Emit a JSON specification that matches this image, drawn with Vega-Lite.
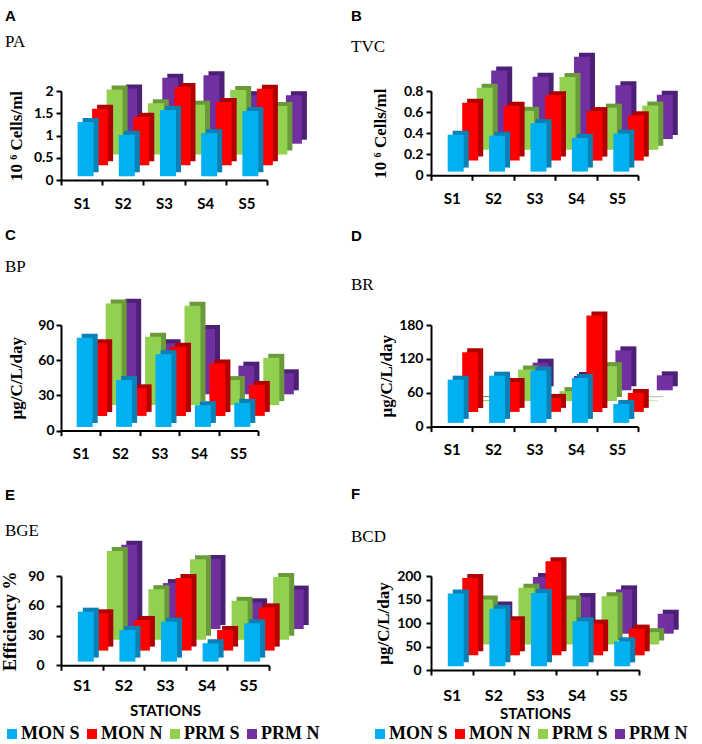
{
"$schema": "https://vega.github.io/schema/vega-lite/v6.json",
"autosize": {"type": "none"},
"padding": {"left": 61, "top": 91, "right": 641, "bottom": 653},
"background": "white",
"data": {"values": [
{"panel":"PA","station":"S1","series":"MON S","value":1.22},{"panel":"PA","station":"S1","series":"MON N","value":1.27},{"panel":"PA","station":"S1","series":"PRM S","value":1.46},{"panel":"PA","station":"S1","series":"PRM N","value":1.24},
{"panel":"PA","station":"S2","series":"MON S","value":0.93},{"panel":"PA","station":"S2","series":"MON N","value":1.09},{"panel":"PA","station":"S2","series":"PRM S","value":1.15},{"panel":"PA","station":"S2","series":"PRM N","value":1.48},
{"panel":"PA","station":"S3","series":"MON S","value":1.49},{"panel":"PA","station":"S3","series":"MON N","value":1.76},{"panel":"PA","station":"S3","series":"PRM S","value":1.12},{"panel":"PA","station":"S3","series":"PRM N","value":1.54},
{"panel":"PA","station":"S4","series":"MON S","value":0.97},{"panel":"PA","station":"S4","series":"MON N","value":1.42},{"panel":"PA","station":"S4","series":"PRM S","value":1.45},{"panel":"PA","station":"S4","series":"PRM N","value":1.09},
{"panel":"PA","station":"S5","series":"MON S","value":1.47},{"panel":"PA","station":"S5","series":"MON N","value":1.72},{"panel":"PA","station":"S5","series":"PRM S","value":1.09},{"panel":"PA","station":"S5","series":"PRM N","value":1.09},
{"panel":"TVC","station":"S1","series":"MON S","value":0.35},{"panel":"TVC","station":"S1","series":"MON N","value":0.55},{"panel":"TVC","station":"S1","series":"PRM S","value":0.59},{"panel":"TVC","station":"S1","series":"PRM N","value":0.65},
{"panel":"TVC","station":"S2","series":"MON S","value":0.34},{"panel":"TVC","station":"S2","series":"MON N","value":0.52},{"panel":"TVC","station":"S2","series":"PRM S","value":0.37},{"panel":"TVC","station":"S2","series":"PRM N","value":0.59},
{"panel":"TVC","station":"S3","series":"MON S","value":0.46},{"panel":"TVC","station":"S3","series":"MON N","value":0.62},{"panel":"TVC","station":"S3","series":"PRM S","value":0.69},{"panel":"TVC","station":"S3","series":"PRM N","value":0.78},
{"panel":"TVC","station":"S4","series":"MON S","value":0.32},{"panel":"TVC","station":"S4","series":"MON N","value":0.47},{"panel":"TVC","station":"S4","series":"PRM S","value":0.40},{"panel":"TVC","station":"S4","series":"PRM N","value":0.51},
{"panel":"TVC","station":"S5","series":"MON S","value":0.36},{"panel":"TVC","station":"S5","series":"MON N","value":0.43},{"panel":"TVC","station":"S5","series":"PRM S","value":0.42},{"panel":"TVC","station":"S5","series":"PRM N","value":0.42},
{"panel":"BP","station":"S1","series":"MON S","value":76},{"panel":"BP","station":"S1","series":"MON N","value":62},{"panel":"BP","station":"S1","series":"PRM S","value":86.6},{"panel":"BP","station":"S1","series":"PRM N","value":78},
{"panel":"BP","station":"S2","series":"MON S","value":40},{"panel":"BP","station":"S2","series":"MON N","value":23.5},{"panel":"BP","station":"S2","series":"PRM S","value":58.2},{"panel":"BP","station":"S2","series":"PRM N","value":43.5},
{"panel":"BP","station":"S3","series":"MON S","value":62},{"panel":"BP","station":"S3","series":"MON N","value":59},{"panel":"BP","station":"S3","series":"PRM S","value":84.7},{"panel":"BP","station":"S3","series":"PRM N","value":55.7},
{"panel":"BP","station":"S4","series":"MON S","value":18.5},{"panel":"BP","station":"S4","series":"MON N","value":44.6},{"panel":"BP","station":"S4","series":"PRM S","value":21.3},{"panel":"BP","station":"S4","series":"PRM N","value":24.4},
{"panel":"BP","station":"S5","series":"MON S","value":20.5},{"panel":"BP","station":"S5","series":"MON N","value":26.4},{"panel":"BP","station":"S5","series":"PRM S","value":40.3},{"panel":"BP","station":"S5","series":"PRM N","value":17.9},
{"panel":"BR","station":"S1","series":"MON S","value":76.6},{"panel":"BR","station":"S1","series":"MON N","value":105.5},{"panel":"BR","station":"S1","series":"PRM S","value":2},{"panel":"BR","station":"S1","series":"PRM N","value":15},
{"panel":"BR","station":"S2","series":"MON S","value":83.7},{"panel":"BR","station":"S2","series":"MON N","value":53},{"panel":"BR","station":"S2","series":"PRM S","value":56},{"panel":"BR","station":"S2","series":"PRM N","value":49},
{"panel":"BR","station":"S3","series":"MON S","value":93},{"panel":"BR","station":"S3","series":"MON N","value":24.8},{"panel":"BR","station":"S3","series":"PRM S","value":17.7},{"panel":"BR","station":"S3","series":"PRM N","value":25.4},
{"panel":"BR","station":"S4","series":"MON S","value":79.6},{"panel":"BR","station":"S4","series":"MON N","value":171},{"panel":"BR","station":"S4","series":"PRM S","value":62},{"panel":"BR","station":"S4","series":"PRM N","value":70.8},
{"panel":"BR","station":"S5","series":"MON S","value":33.6},{"panel":"BR","station":"S5","series":"MON N","value":33.6},{"panel":"BR","station":"S5","series":"PRM S","value":1},{"panel":"BR","station":"S5","series":"PRM N","value":26.5},
{"panel":"BGE","station":"S1","series":"MON S","value":50.3},{"panel":"BGE","station":"S1","series":"MON N","value":37.6},{"panel":"BGE","station":"S1","series":"PRM S","value":89.6},{"panel":"BGE","station":"S1","series":"PRM N","value":85},
{"panel":"BGE","station":"S2","series":"MON S","value":31.9},{"panel":"BGE","station":"S2","series":"MON N","value":30.9},{"panel":"BGE","station":"S2","series":"PRM S","value":51},{"panel":"BGE","station":"S2","series":"PRM N","value":46.3},
{"panel":"BGE","station":"S3","series":"MON S","value":40.3},{"panel":"BGE","station":"S3","series":"MON N","value":73.2},{"panel":"BGE","station":"S3","series":"PRM S","value":81.2},{"panel":"BGE","station":"S3","series":"PRM N","value":70.5},
{"panel":"BGE","station":"S4","series":"MON S","value":18.5},{"panel":"BGE","station":"S4","series":"MON N","value":20.8},{"panel":"BGE","station":"S4","series":"PRM S","value":39.3},{"panel":"BGE","station":"S4","series":"PRM N","value":26.9},
{"panel":"BGE","station":"S5","series":"MON S","value":38.6},{"panel":"BGE","station":"S5","series":"MON N","value":43.6},{"panel":"BGE","station":"S5","series":"PRM S","value":63.4},{"panel":"BGE","station":"S5","series":"PRM N","value":39.7},
{"panel":"BCD","station":"S1","series":"MON S","value":154.7},{"panel":"BCD","station":"S1","series":"MON N","value":164.5},{"panel":"BCD","station":"S1","series":"PRM S","value":95.7},{"panel":"BCD","station":"S1","series":"PRM N","value":60},
{"panel":"BCD","station":"S2","series":"MON S","value":122.7},{"panel":"BCD","station":"S2","series":"MON N","value":74.5},{"panel":"BCD","station":"S2","series":"PRM S","value":120.6},{"panel":"BCD","station":"S2","series":"PRM N","value":120.6},
{"panel":"BCD","station":"S3","series":"MON S","value":156},{"panel":"BCD","station":"S3","series":"MON N","value":200},{"panel":"BCD","station":"S3","series":"PRM S","value":95.7},{"panel":"BCD","station":"S3","series":"PRM N","value":78},
{"panel":"BCD","station":"S4","series":"MON S","value":95.7},{"panel":"BCD","station":"S4","series":"MON N","value":67.4},{"panel":"BCD","station":"S4","series":"PRM S","value":102.8},{"panel":"BCD","station":"S4","series":"PRM N","value":94.3},
{"panel":"BCD","station":"S5","series":"MON S","value":53.2},{"panel":"BCD","station":"S5","series":"MON N","value":56.8},{"panel":"BCD","station":"S5","series":"PRM S","value":26.2},{"panel":"BCD","station":"S5","series":"PRM N","value":42.5}
]},
"columns": 2,
"spacing": {"row": 145, "column": 162},
"bounds": "flush",
"resolve": {"scale": {"color": "independent", "x": "independent", "y": "independent"}, "legend": {"color": "independent"}},
"concat": [
{
 "width": 206, "height": 89,
 "title": {"text": "A", "subtitle": "PA", "dx": -56, "offset": 21, "subtitlePadding": 10},
 "transform": [{"filter": "datum.panel == 'PA'"}],
 "encoding": {
  "x": {"field": "station", "type": "nominal", "scale": {"paddingInner": 0, "paddingOuter": 0}, "axis": {"title": null, "labelPadding": 11}},
  "y": {"field": "value", "type": "quantitative", "scale": {"domain": [0, 2], "nice": false}, "axis": {"values": [0, 0.5, 1, 1.5, 2], "format": "~g", "title": "10 ⁶ Cells/ml", "titleFontSize": 17, "labelPadding": 3, "titlePadding": 8}},
  "color": {"field": "series", "type": "nominal", "scale": {"domain": ["MON S", "MON N", "PRM S", "PRM N"], "range": ["#00B0F0", "#FF0000", "#92D050", "#7030A0"]}, "legend": null}
 },
 "layer": [
  {"transform": [{"filter": "datum.series == 'PRM N'"}], "mark": {"type": "bar", "width": 16, "xOffset": 52.5, "x2Offset": 52.5, "yOffset": -40.3, "y2Offset": -40.3}, "encoding": {"color": {"value": "#4B2075"}}},
  {"transform": [{"filter": "datum.series == 'PRM N'"}], "mark": {"type": "bar", "width": 16, "xOffset": 47.5, "x2Offset": 47.5, "yOffset": -36.3, "y2Offset": -36.3}},
  {"transform": [{"filter": "datum.series == 'PRM S'"}], "mark": {"type": "bar", "width": 16, "xOffset": 38, "x2Offset": 38, "yOffset": -29.5, "y2Offset": -29.5}, "encoding": {"color": {"value": "#6B9A3A"}}},
  {"transform": [{"filter": "datum.series == 'PRM S'"}], "mark": {"type": "bar", "width": 16, "xOffset": 33, "x2Offset": 33, "yOffset": -25.5, "y2Offset": -25.5}},
  {"transform": [{"filter": "datum.series == 'MON N'"}], "mark": {"type": "bar", "width": 16, "xOffset": 23.5, "x2Offset": 23.5, "yOffset": -18.7, "y2Offset": -18.7}, "encoding": {"color": {"value": "#B00000"}}},
  {"transform": [{"filter": "datum.series == 'MON N'"}], "mark": {"type": "bar", "width": 16, "xOffset": 18.5, "x2Offset": 18.5, "yOffset": -14.7, "y2Offset": -14.7}},
  {"transform": [{"filter": "datum.series == 'MON S'"}], "mark": {"type": "bar", "width": 16, "xOffset": 9, "x2Offset": 9, "yOffset": -7.7, "y2Offset": -7.7}, "encoding": {"color": {"value": "#0A80B4"}}},
  {"transform": [{"filter": "datum.series == 'MON S'"}], "mark": {"type": "bar", "width": 16, "xOffset": 4, "x2Offset": 4, "yOffset": -3.7, "y2Offset": -3.7}}
 ]
},
{
 "width": 207, "height": 84.3,
 "title": {"text": "B", "subtitle": "TVC", "dx": -80, "offset": -2, "subtitlePadding": 15},
 "transform": [{"filter": "datum.panel == 'TVC'"}],
 "encoding": {
  "x": {"field": "station", "type": "nominal", "scale": {"paddingInner": 0, "paddingOuter": 0}, "axis": {"title": null, "labelPadding": 11}},
  "y": {"field": "value", "type": "quantitative", "scale": {"domain": [0, 0.8], "nice": false}, "axis": {"values": [0, 0.2, 0.4, 0.6, 0.8], "format": "~g", "title": "10 ⁶ Cells/ml", "titleFontSize": 17, "labelPadding": 3, "titlePadding": 14}},
  "color": {"field": "series", "type": "nominal", "scale": {"domain": ["MON S", "MON N", "PRM S", "PRM N"], "range": ["#00B0F0", "#FF0000", "#92D050", "#7030A0"]}, "legend": null}
 },
 "layer": [
  {"transform": [{"filter": "datum.series == 'PRM N'"}], "mark": {"type": "bar", "width": 16, "xOffset": 52.5, "x2Offset": 52.5, "yOffset": -40.3, "y2Offset": -40.3}, "encoding": {"color": {"value": "#4B2075"}}},
  {"transform": [{"filter": "datum.series == 'PRM N'"}], "mark": {"type": "bar", "width": 16, "xOffset": 47.5, "x2Offset": 47.5, "yOffset": -36.3, "y2Offset": -36.3}},
  {"transform": [{"filter": "datum.series == 'PRM S'"}], "mark": {"type": "bar", "width": 16, "xOffset": 38, "x2Offset": 38, "yOffset": -29.5, "y2Offset": -29.5}, "encoding": {"color": {"value": "#6B9A3A"}}},
  {"transform": [{"filter": "datum.series == 'PRM S'"}], "mark": {"type": "bar", "width": 16, "xOffset": 33, "x2Offset": 33, "yOffset": -25.5, "y2Offset": -25.5}},
  {"transform": [{"filter": "datum.series == 'MON N'"}], "mark": {"type": "bar", "width": 16, "xOffset": 23.5, "x2Offset": 23.5, "yOffset": -18.7, "y2Offset": -18.7}, "encoding": {"color": {"value": "#B00000"}}},
  {"transform": [{"filter": "datum.series == 'MON N'"}], "mark": {"type": "bar", "width": 16, "xOffset": 18.5, "x2Offset": 18.5, "yOffset": -14.7, "y2Offset": -14.7}},
  {"transform": [{"filter": "datum.series == 'MON S'"}], "mark": {"type": "bar", "width": 16, "xOffset": 9, "x2Offset": 9, "yOffset": -7.7, "y2Offset": -7.7}, "encoding": {"color": {"value": "#0A80B4"}}},
  {"transform": [{"filter": "datum.series == 'MON S'"}], "mark": {"type": "bar", "width": 16, "xOffset": 4, "x2Offset": 4, "yOffset": -3.7, "y2Offset": -3.7}}
 ]
},
{
 "width": 197, "height": 105.6,
 "title": {"text": "C", "subtitle": "BP", "dx": -56, "offset": 24, "subtitlePadding": 16},
 "transform": [{"filter": "datum.panel == 'BP'"}],
 "encoding": {
  "x": {"field": "station", "type": "nominal", "scale": {"paddingInner": 0, "paddingOuter": 0}, "axis": {"title": null, "labelPadding": 11}},
  "y": {"field": "value", "type": "quantitative", "scale": {"domain": [0, 90], "nice": false}, "axis": {"values": [0, 30, 60, 90], "title": "µg/C/L/day", "titleFontSize": 17, "labelPadding": 2, "titlePadding": 12}},
  "color": {"field": "series", "type": "nominal", "scale": {"domain": ["MON S", "MON N", "PRM S", "PRM N"], "range": ["#00B0F0", "#FF0000", "#92D050", "#7030A0"]}, "legend": null}
 },
 "layer": [
  {"transform": [{"filter": "datum.series == 'PRM N'"}], "mark": {"type": "bar", "width": 16, "xOffset": 52.5, "x2Offset": 52.5, "yOffset": -40.3, "y2Offset": -40.3}, "encoding": {"color": {"value": "#4B2075"}}},
  {"transform": [{"filter": "datum.series == 'PRM N'"}], "mark": {"type": "bar", "width": 16, "xOffset": 47.5, "x2Offset": 47.5, "yOffset": -36.3, "y2Offset": -36.3}},
  {"transform": [{"filter": "datum.series == 'PRM S'"}], "mark": {"type": "bar", "width": 16, "xOffset": 38, "x2Offset": 38, "yOffset": -29.5, "y2Offset": -29.5}, "encoding": {"color": {"value": "#6B9A3A"}}},
  {"transform": [{"filter": "datum.series == 'PRM S'"}], "mark": {"type": "bar", "width": 16, "xOffset": 33, "x2Offset": 33, "yOffset": -25.5, "y2Offset": -25.5}},
  {"transform": [{"filter": "datum.series == 'MON N'"}], "mark": {"type": "bar", "width": 16, "xOffset": 23.5, "x2Offset": 23.5, "yOffset": -18.7, "y2Offset": -18.7}, "encoding": {"color": {"value": "#B00000"}}},
  {"transform": [{"filter": "datum.series == 'MON N'"}], "mark": {"type": "bar", "width": 16, "xOffset": 18.5, "x2Offset": 18.5, "yOffset": -14.7, "y2Offset": -14.7}},
  {"transform": [{"filter": "datum.series == 'MON S'"}], "mark": {"type": "bar", "width": 16, "xOffset": 9, "x2Offset": 9, "yOffset": -7.7, "y2Offset": -7.7}, "encoding": {"color": {"value": "#0A80B4"}}},
  {"transform": [{"filter": "datum.series == 'MON S'"}], "mark": {"type": "bar", "width": 16, "xOffset": 4, "x2Offset": 4, "yOffset": -3.7, "y2Offset": -3.7}}
 ]
},
{
 "width": 207, "height": 101.6,
 "title": {"text": "D", "subtitle": "BR", "dx": -80, "offset": 18, "subtitlePadding": 33},
 "transform": [{"filter": "datum.panel == 'BR'"}],
 "encoding": {
  "x": {"field": "station", "type": "nominal", "scale": {"paddingInner": 0, "paddingOuter": 0}, "axis": {"title": null, "labelPadding": 11}},
  "y": {"field": "value", "type": "quantitative", "scale": {"domain": [0, 180], "nice": false}, "axis": {"values": [0, 60, 120, 180], "title": "µg/C/L/day", "titleFontSize": 17, "labelPadding": 3, "titlePadding": 3}},
  "color": {"field": "series", "type": "nominal", "scale": {"domain": ["MON S", "MON N", "PRM S", "PRM N"], "range": ["#00B0F0", "#FF0000", "#92D050", "#7030A0"]}, "legend": null}
 },
 "layer": [
  {"transform": [{"filter": "datum.series == 'PRM N'"}], "mark": {"type": "bar", "width": 16, "xOffset": 52.5, "x2Offset": 52.5, "yOffset": -40.3, "y2Offset": -40.3}, "encoding": {"color": {"value": "#4B2075"}}},
  {"transform": [{"filter": "datum.series == 'PRM N'"}], "mark": {"type": "bar", "width": 16, "xOffset": 47.5, "x2Offset": 47.5, "yOffset": -36.3, "y2Offset": -36.3}},
  {"transform": [{"filter": "datum.series == 'PRM S'"}], "mark": {"type": "bar", "width": 16, "xOffset": 38, "x2Offset": 38, "yOffset": -29.5, "y2Offset": -29.5}, "encoding": {"color": {"value": "#6B9A3A"}}},
  {"transform": [{"filter": "datum.series == 'PRM S'"}], "mark": {"type": "bar", "width": 16, "xOffset": 33, "x2Offset": 33, "yOffset": -25.5, "y2Offset": -25.5}},
  {"transform": [{"filter": "datum.series == 'MON N'"}], "mark": {"type": "bar", "width": 16, "xOffset": 23.5, "x2Offset": 23.5, "yOffset": -18.7, "y2Offset": -18.7}, "encoding": {"color": {"value": "#B00000"}}},
  {"transform": [{"filter": "datum.series == 'MON N'"}], "mark": {"type": "bar", "width": 16, "xOffset": 18.5, "x2Offset": 18.5, "yOffset": -14.7, "y2Offset": -14.7}},
  {"transform": [{"filter": "datum.series == 'MON S'"}], "mark": {"type": "bar", "width": 16, "xOffset": 9, "x2Offset": 9, "yOffset": -7.7, "y2Offset": -7.7}, "encoding": {"color": {"value": "#0A80B4"}}},
  {"transform": [{"filter": "datum.series == 'MON S'"}], "mark": {"type": "bar", "width": 16, "xOffset": 4, "x2Offset": 4, "yOffset": -3.7, "y2Offset": -3.7}}
 ]
},
{
 "width": 208, "height": 89.3,
 "title": {"text": "E", "subtitle": "BGE", "dx": -56, "offset": 2, "subtitlePadding": 20},
 "transform": [{"filter": "datum.panel == 'BGE'"}],
 "encoding": {
  "x": {"field": "station", "type": "nominal", "scale": {"paddingInner": 0, "paddingOuter": 0}, "axis": {"title": "STATIONS", "labelFontSize": 16, "labelPadding": 7, "titlePadding": 10}},
  "y": {"field": "value", "type": "quantitative", "scale": {"domain": [0, 90], "nice": false}, "axis": {"values": [0, 30, 60, 90], "title": "Efficiency %", "titleFontSize": 18, "labelPadding": 12, "titlePadding": 8}},
  "color": {"field": "series", "type": "nominal", "scale": {"domain": ["MON S", "MON N", "PRM S", "PRM N"], "range": ["#00B0F0", "#FF0000", "#92D050", "#7030A0"]}, "legend": {"orient": "none", "legendX": -58, "legendY": 149, "direction": "horizontal", "columns": 4, "title": null}}
 },
 "layer": [
  {"transform": [{"filter": "datum.series == 'PRM N'"}], "mark": {"type": "bar", "width": 16, "xOffset": 52.5, "x2Offset": 52.5, "yOffset": -40.3, "y2Offset": -40.3}, "encoding": {"color": {"value": "#4B2075"}}},
  {"transform": [{"filter": "datum.series == 'PRM N'"}], "mark": {"type": "bar", "width": 16, "xOffset": 47.5, "x2Offset": 47.5, "yOffset": -36.3, "y2Offset": -36.3}},
  {"transform": [{"filter": "datum.series == 'PRM S'"}], "mark": {"type": "bar", "width": 16, "xOffset": 38, "x2Offset": 38, "yOffset": -29.5, "y2Offset": -29.5}, "encoding": {"color": {"value": "#6B9A3A"}}},
  {"transform": [{"filter": "datum.series == 'PRM S'"}], "mark": {"type": "bar", "width": 16, "xOffset": 33, "x2Offset": 33, "yOffset": -25.5, "y2Offset": -25.5}},
  {"transform": [{"filter": "datum.series == 'MON N'"}], "mark": {"type": "bar", "width": 16, "xOffset": 23.5, "x2Offset": 23.5, "yOffset": -18.7, "y2Offset": -18.7}, "encoding": {"color": {"value": "#B00000"}}},
  {"transform": [{"filter": "datum.series == 'MON N'"}], "mark": {"type": "bar", "width": 16, "xOffset": 18.5, "x2Offset": 18.5, "yOffset": -14.7, "y2Offset": -14.7}},
  {"transform": [{"filter": "datum.series == 'MON S'"}], "mark": {"type": "bar", "width": 16, "xOffset": 9, "x2Offset": 9, "yOffset": -7.7, "y2Offset": -7.7}, "encoding": {"color": {"value": "#0A80B4"}}},
  {"transform": [{"filter": "datum.series == 'MON S'"}], "mark": {"type": "bar", "width": 16, "xOffset": 4, "x2Offset": 4, "yOffset": -3.7, "y2Offset": -3.7}}
 ]
},
{
 "width": 208, "height": 94,
 "title": {"text": "F", "subtitle": "BCD", "dx": -80, "offset": 12, "subtitlePadding": 27},
 "transform": [{"filter": "datum.panel == 'BCD'"}],
 "encoding": {
  "x": {"field": "station", "type": "nominal", "scale": {"paddingInner": 0, "paddingOuter": 0}, "axis": {"title": "STATIONS", "labelFontSize": 16, "labelPadding": 12, "titlePadding": 3}},
  "y": {"field": "value", "type": "quantitative", "scale": {"domain": [0, 200], "nice": false}, "axis": {"values": [0, 50, 100, 150, 200], "title": "µg/C/L/day", "titleFontSize": 17, "labelPadding": 5, "titlePadding": 4}},
  "color": {"field": "series", "type": "nominal", "scale": {"domain": ["MON S", "MON N", "PRM S", "PRM N"], "range": ["#00B0F0", "#FF0000", "#92D050", "#7030A0"]}, "legend": {"orient": "none", "legendX": -60, "legendY": 149, "direction": "horizontal", "columns": 4, "title": null}}
 },
 "layer": [
  {"transform": [{"filter": "datum.series == 'PRM N'"}], "mark": {"type": "bar", "width": 16, "xOffset": 52.5, "x2Offset": 52.5, "yOffset": -40.3, "y2Offset": -40.3}, "encoding": {"color": {"value": "#4B2075"}}},
  {"transform": [{"filter": "datum.series == 'PRM N'"}], "mark": {"type": "bar", "width": 16, "xOffset": 47.5, "x2Offset": 47.5, "yOffset": -36.3, "y2Offset": -36.3}},
  {"transform": [{"filter": "datum.series == 'PRM S'"}], "mark": {"type": "bar", "width": 16, "xOffset": 38, "x2Offset": 38, "yOffset": -29.5, "y2Offset": -29.5}, "encoding": {"color": {"value": "#6B9A3A"}}},
  {"transform": [{"filter": "datum.series == 'PRM S'"}], "mark": {"type": "bar", "width": 16, "xOffset": 33, "x2Offset": 33, "yOffset": -25.5, "y2Offset": -25.5}},
  {"transform": [{"filter": "datum.series == 'MON N'"}], "mark": {"type": "bar", "width": 16, "xOffset": 23.5, "x2Offset": 23.5, "yOffset": -18.7, "y2Offset": -18.7}, "encoding": {"color": {"value": "#B00000"}}},
  {"transform": [{"filter": "datum.series == 'MON N'"}], "mark": {"type": "bar", "width": 16, "xOffset": 18.5, "x2Offset": 18.5, "yOffset": -14.7, "y2Offset": -14.7}},
  {"transform": [{"filter": "datum.series == 'MON S'"}], "mark": {"type": "bar", "width": 16, "xOffset": 9, "x2Offset": 9, "yOffset": -7.7, "y2Offset": -7.7}, "encoding": {"color": {"value": "#0A80B4"}}},
  {"transform": [{"filter": "datum.series == 'MON S'"}], "mark": {"type": "bar", "width": 16, "xOffset": 4, "x2Offset": 4, "yOffset": -3.7, "y2Offset": -3.7}}
 ]
}
],
"config": {
 "view": {"stroke": null},
 "axis": {"domainColor": "black", "domainWidth": 2, "tickColor": "black", "tickWidth": 2, "tickSize": 5, "labelFont": "Lato", "labelFontWeight": "bold", "labelColor": "black", "labelFontSize": 14, "grid": false, "titleColor": "black"},
 "axisY": {"titleFont": "Liberation Serif", "titleFontWeight": "bold"},
 "axisX": {"labelAngle": 0, "tickBand": "extent", "titleFont": "Lato", "titleFontWeight": "bold", "titleFontSize": 15, "labelFontSize": 15},
 "title": {"font": "Liberation Sans", "fontSize": 15, "fontWeight": "bold", "color": "black", "subtitleFont": "Liberation Serif", "subtitleFontSize": 17, "subtitleColor": "black", "anchor": "start", "frame": "group"},
 "legend": {"symbolType": "square", "symbolSize": 100, "symbolStrokeWidth": 0, "symbolOpacity": 1, "labelFont": "Liberation Serif", "labelFontWeight": "bold", "labelFontSize": 18, "labelColor": "black", "columnPadding": 3, "labelOffset": 0, "labelLimit": 200, "gridAlign": "each"}
}
}
